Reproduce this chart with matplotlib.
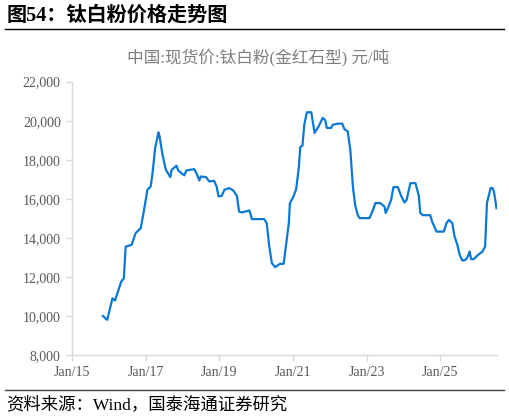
import matplotlib
matplotlib.use("Agg")
import matplotlib.pyplot as plt
import numpy as np

plt.rcParams['font.family'] = ['Liberation Serif', 'Noto Sans CJK SC', 'DejaVu Sans']

# price of titanium dioxide (rutile), yuan/ton
years = [2015.84, 2015.96, 2016.10, 2016.17, 2016.28, 2016.34, 2016.41, 2016.46, 2016.62, 2016.73,
         2016.82, 2016.87, 2016.96, 2017.05, 2017.14, 2017.19, 2017.26, 2017.35, 2017.38, 2017.46,
         2017.55, 2017.67, 2017.71, 2017.84, 2017.89, 2018.05, 2018.11, 2018.32, 2018.38, 2018.46,
         2018.50, 2018.64, 2018.73, 2018.86, 2018.93, 2018.98, 2019.07, 2019.14, 2019.27, 2019.38,
         2019.48, 2019.54, 2019.61, 2019.82, 2019.89, 2020.22, 2020.29, 2020.36, 2020.43, 2020.52,
         2020.65, 2020.75, 2020.89, 2020.92, 2021.01, 2021.09, 2021.16, 2021.20, 2021.26, 2021.31,
         2021.38, 2021.50, 2021.59, 2021.70, 2021.81, 2021.88, 2021.92, 2022.04, 2022.08, 2022.22,
         2022.34, 2022.40, 2022.49, 2022.56, 2022.63, 2022.69, 2022.76, 2022.81, 2023.08, 2023.16,
         2023.24, 2023.37, 2023.49, 2023.52, 2023.58, 2023.67, 2023.73, 2023.85, 2023.94, 2024.03,
         2024.09, 2024.19, 2024.33, 2024.42, 2024.46, 2024.53, 2024.73, 2024.78, 2024.90, 2025.10,
         2025.17, 2025.24, 2025.33, 2025.39, 2025.46, 2025.53, 2025.60, 2025.69, 2025.75, 2025.80,
         2025.84, 2025.91, 2026.03, 2026.15, 2026.22, 2026.27, 2026.37, 2026.42, 2026.46, 2026.53]
prices = [10000, 9800, 10900, 10790, 11420, 11760, 11930, 13550, 13640, 14240,
          14410, 14500, 15440, 16460, 16630, 17320, 18600, 19400, 19200, 18260,
          17490, 17110, 17490, 17690, 17440, 17200, 17450, 17520, 17320, 16940,
          17140, 17110, 16890, 16920, 16630, 16120, 16150, 16460, 16550, 16430,
          16150, 15350, 15300, 15400, 14960, 14960, 14750, 13550, 12700, 12500,
          12670, 12670, 14750, 15780, 16090, 16500, 17570, 18650, 18720, 19790,
          20430, 20430, 19370, 19710, 20140, 20020, 19630, 19630, 19790, 19850,
          19850, 19570, 19450, 18510, 16630, 15690, 15180, 15010, 15010, 15350,
          15780, 15780, 15600, 15270, 15520, 15950, 16600, 16600, 16150, 15810,
          15950, 16800, 16800, 16150, 15270, 15160, 15160, 14840, 14320, 14320,
          14750, 14920, 14750, 14070, 13690, 13130, 12840, 12870, 13040, 13300,
          12910, 12910, 13130, 13300, 13550, 15780, 16550, 16550, 16370, 15520]

tick_years = [2015, 2017, 2019, 2021, 2023, 2025]
tick_labels = ["Jan/15", "Jan/17", "Jan/19", "Jan/21", "Jan/23", "Jan/25"]
y_ticks = [8000, 10000, 12000, 14000, 16000, 18000, 20000, 22000]

fig = plt.figure(figsize=(5.1, 4.18), dpi=100)
ax = fig.add_axes([0.141, 0.1507, 0.834, 0.654])

ax.plot(years, prices, color='#0a78d6', linewidth=1.6, solid_joinstyle='round')

ax.set_xlim(2015, 2026.55)
ax.set_ylim(8000, 22000)
ax.set_xticks(tick_years)
ax.set_xticklabels(tick_labels)
ax.set_yticks(y_ticks)
ax.set_yticklabels([f"{v:,}" for v in y_ticks])

for s in ['top', 'right']:
    ax.spines[s].set_visible(False)
for s in ['left', 'bottom']:
    ax.spines[s].set_color('#d9d9d9')
    ax.spines[s].set_linewidth(1.0)
ax.tick_params(axis='both', colors='#d9d9d9', labelcolor='#595959', labelsize=10,
               length=4, width=1.0, direction='out')
ax.tick_params(axis='y', pad=4)
ax.tick_params(axis='x', pad=4)

fig.text(0.506, 0.863, "中国:现货价:钛白粉(金红石型) 元/吨", ha='center', va='center',
         fontsize=12, color='#7f7f7f', family=['Liberation Serif', 'Noto Sans CJK SC'])

fig.text(0.012, 0.962, "图54：钛白粉价格走势图", ha='left', va='center',
         fontsize=14.5, fontweight='bold', color='black',
         family=['Liberation Serif', 'Noto Sans CJK SC'])
fig.add_artist(plt.Line2D([0.01, 0.988], [0.930, 0.930], color='black', linewidth=1.0))
fig.add_artist(plt.Line2D([0.01, 0.988], [0.067, 0.067], color='#404040', linewidth=1.0))
fig.text(0.012, 0.033, "资料来源：Wind，国泰海通证券研究", ha='left', va='center',
         fontsize=12.5, color='black', family=['Liberation Serif', 'Noto Sans CJK SC'])

fig.savefig("out.png", dpi=100)
